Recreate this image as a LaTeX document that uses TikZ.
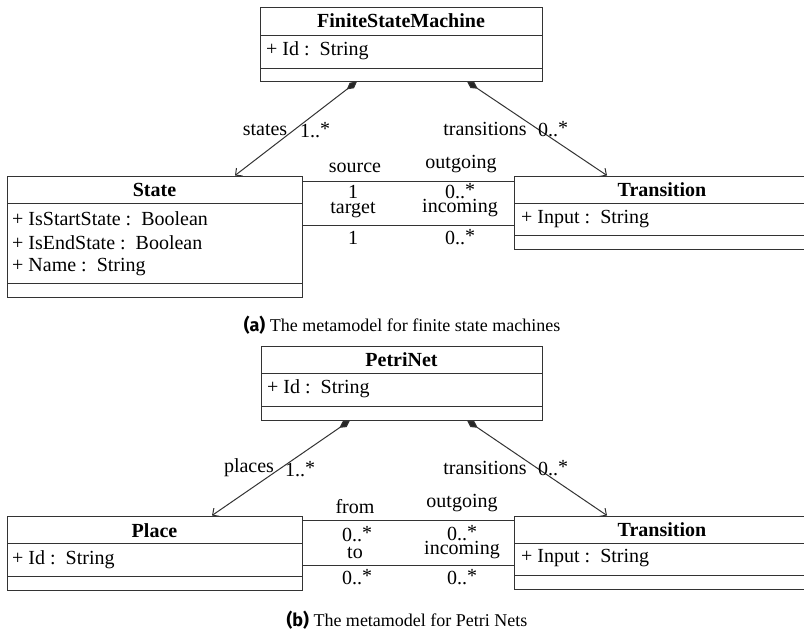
\documentclass[tikz,border=0pt]{standalone}
\usepackage{fontspec}
\setmainfont{Liberation Serif}
\newfontfamily\capsans{Fira Sans}
\usetikzlibrary{arrows.meta}

\newcommand{\mult}[1]{#1..\raisebox{2pt}{*}}

\tikzset{
  umlline/.style={draw=black!80, line width=1pt},
  classbox/.style={umlline, rectangle, inner sep=0pt},
  ctitle/.style={font=\fontsize{20}{24}\selectfont\bfseries, inner sep=0pt},
  attr/.style={anchor=west, inner sep=0pt},
  lbl/.style={inner sep=0pt},
  comp/.style={umlline, {Diamond[length=13pt,width=7pt,fill=black!85]}-{Straight Barb[length=5pt,width=10pt]}},
  assoc/.style={umlline},
  caption/.style={inner sep=0pt, font=\fontsize{18}{22}\selectfont},
}

\begin{document}
\begin{tikzpicture}[x=1pt, y=-1pt, font=\fontsize{20}{24}\selectfont]
  \useasboundingbox (0,0) rectangle (804,632);
  \clip (0,0) rectangle (804,632);

  % ---------- finite state machine metamodel ----------
  \node[classbox, minimum width=282pt, minimum height=74pt] (fsm) at (401,44) {};
  \draw[umlline] (260,35) -- (542,35);
  \draw[umlline] (260,68) -- (542,68);
  \node[ctitle] (fsmT) at (401,21) {FiniteStateMachine};
  \node[attr] (fsmA) at (266,51) {+ Id :\, String};

  \node[classbox, minimum width=295pt, minimum height=121pt] (state) at (154.5,236.5) {};
  \draw[umlline] (7,203) -- (302,203);
  \draw[umlline] (7,283) -- (302,283);
  \node[ctitle] (stateT) at (154.5,190) {State};
  \node[attr] (stateA1) at (12,219) {+ IsStartState :\, Boolean};
  \node[attr] (stateA2) at (12,243) {+ IsEndState :\, Boolean};
  \node[attr] (stateA3) at (12,267) {+ Name :\, String};

  \node[classbox, minimum width=296pt, minimum height=73pt] (trans) at (662,212.5) {};
  \draw[umlline] (514,203) -- (810,203);
  \draw[umlline] (514,235) -- (810,235);
  \node[ctitle] (transT) at (662,190) {Transition};
  \node[attr] (transA) at (521,219) {+ Input :\, String};

  \draw[comp] ([xshift=-44pt]fsm.south) -- ([xshift=80.5pt]state.north);
  \draw[comp] ([xshift=66pt]fsm.south) -- ([xshift=-55pt]trans.north);
  \node[lbl] (l1) at (265,130) {states};
  \node[lbl] (l2) at (315,130) {\mult{1}};
  \node[lbl] (l3) at (485,129) {transitions};
  \node[lbl] (l4) at (553,129) {\mult{0}};

  \draw[assoc] ([yshift=-6pt]state.north east) -- ([yshift=-6pt]trans.north west);
  \draw[assoc] ([yshift=-50pt]state.north east) -- ([yshift=-50pt]trans.north west);
  \node[lbl] (l5) at (355,168) {source};
  \node[lbl] (l6) at (461,164) {outgoing};
  \node[lbl] (l7) at (353,192) {1};
  \node[lbl] (l8) at (460,191) {\mult{0}};
  \node[lbl] (l9) at (353,210) {target};
  \node[lbl] (l10) at (460,208) {incoming};
  \node[lbl] (l11) at (353,238) {1};
  \node[lbl] (l12) at (460,237) {\mult{0}};

  \node[caption] (capA) at (402,325) {{\capsans\bfseries (a)} The metamodel for finite state machines};

  % ---------- Petri net metamodel ----------
  \node[classbox, minimum width=281pt, minimum height=74pt] (pn) at (401.5,383) {};
  \draw[umlline] (261,373) -- (542,373);
  \draw[umlline] (261,406) -- (542,406);
  \node[ctitle] (pnT) at (401.5,360) {PetriNet};
  \node[attr] (pnA) at (267,389) {+ Id :\, String};

  \node[classbox, minimum width=295pt, minimum height=74pt] (place) at (154.5,553) {};
  \draw[umlline] (7,543) -- (302,543);
  \draw[umlline] (7,576) -- (302,576);
  \node[ctitle] (placeT) at (154.5,531) {Place};
  \node[attr] (placeA) at (12,560) {+ Id :\, String};

  \node[classbox, minimum width=296pt, minimum height=73pt] (trans2) at (662,552.5) {};
  \draw[umlline] (514,543) -- (810,543);
  \draw[umlline] (514,575) -- (810,575);
  \node[ctitle] (trans2T) at (662,530) {Transition};
  \node[attr] (trans2A) at (521,558) {+ Input :\, String};

  \draw[comp] ([xshift=-51.5pt]pn.south) -- ([xshift=57.5pt]place.north);
  \draw[comp] ([xshift=65.5pt]pn.south) -- ([xshift=-55pt]trans2.north);
  \node[lbl] (m1) at (249,468) {places};
  \node[lbl] (m2) at (300,469) {\mult{1}};
  \node[lbl] (m3) at (485,468) {transitions};
  \node[lbl] (m4) at (553,468) {\mult{0}};

  \draw[assoc] ([yshift=-5pt]place.north east) -- ([yshift=-5pt]trans2.north west);
  \draw[assoc] ([yshift=-50pt]place.north east) -- ([yshift=-50pt]trans2.north west);
  \node[lbl] (m5) at (355,507) {from};
  \node[lbl] (m6) at (462,503) {outgoing};
  \node[lbl] (m7) at (357,534) {\mult{0}};
  \node[lbl] (m8) at (462,533) {\mult{0}};
  \node[lbl] (m9) at (355,553) {to};
  \node[lbl] (m10) at (462,550) {incoming};
  \node[lbl] (m11) at (357,577) {\mult{0}};
  \node[lbl] (m12) at (462,577) {\mult{0}};

  \node[caption] (capB) at (407,620) {{\capsans\bfseries (b)} The metamodel for Petri Nets};
\end{tikzpicture}
\end{document}
